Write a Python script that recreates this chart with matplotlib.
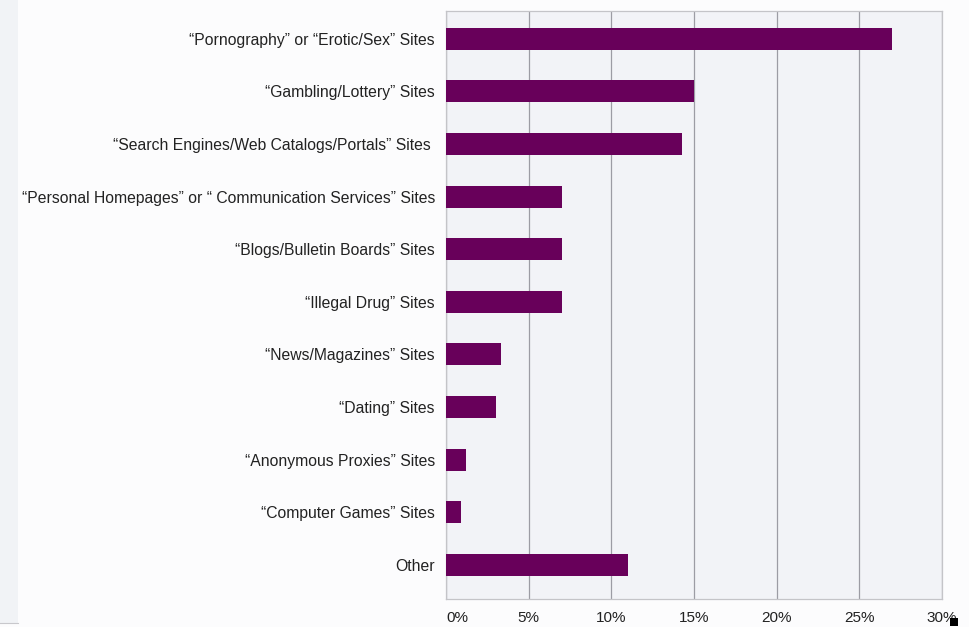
import matplotlib.pyplot as plt
from matplotlib.patches import Rectangle

# Share of blocked site categories (percent)
categories = [
    "\u201cPornography\u201d or \u201cErotic/Sex\u201d Sites",
    "\u201cGambling/Lottery\u201d Sites",
    "\u201cSearch Engines/Web Catalogs/Portals\u201d Sites ",
    "\u201cPersonal Homepages\u201d or \u201c Communication Services\u201d Sites",
    "\u201cBlogs/Bulletin Boards\u201d Sites",
    "\u201cIllegal Drug\u201d Sites",
    "\u201cNews/Magazines\u201d Sites",
    "\u201cDating\u201d Sites",
    "\u201cAnonymous Proxies\u201d Sites",
    "\u201cComputer Games\u201d Sites",
    "Other",
]
shares = [27.0, 15.0, 14.3, 7.0, 7.0, 7.0, 3.3, 3.0, 1.2, 0.9, 11.0]
x_ticks = [0, 5, 10, 15, 20, 25, 30]
x_tick_labels = ["0%", "5%", "10%", "15%", "20%", "25%", "30%"]

plt.rcParams['font.family'] = ['Liberation Sans', 'DejaVu Sans']

fig = plt.figure(figsize=(9.7, 6.27), dpi=100, facecolor='#fcfcfd')
ax = fig.add_axes([0.4598, 0.0447, 0.5113, 0.9378])
ax.set_facecolor('#f2f3f7')

# light strip on the far left edge
fig.patches.append(Rectangle((0, 0.007), 18 / 970, 0.993, transform=fig.transFigure,
                             facecolor='#f1f3f6', edgecolor='none', zorder=0))
fig.add_artist(plt.Line2D([0, 18 / 970], [0.007, 0.007], color='#c8c8cc', lw=0.8))
# small dark mark beside the last tick label
fig.patches.append(Rectangle((950 / 970, 1 / 627), 8 / 970, 8 / 627,
                             transform=fig.transFigure, facecolor='black',
                             edgecolor='none', zorder=5))

y_pos = list(range(len(categories)))
ax.barh(y_pos, shares, height=0.42, color='#68005a', zorder=3)

ax.set_xlim(0, 30)
ax.set_ylim(len(categories) - 1 + 0.65, -0.53)
ax.set_xticks(x_ticks)
ax.set_xticklabels(x_tick_labels, fontsize=11, color='#222222')
ax.get_xticklabels()[0].set_horizontalalignment('left')
ax.set_yticks(y_pos)
ax.set_yticklabels(categories, fontsize=11.3, color='#222222')
ax.tick_params(axis='both', length=0)
ax.tick_params(axis='y', pad=8)
ax.tick_params(axis='x', pad=9)

ax.xaxis.grid(True, color='#9c9ca4', linewidth=0.9, zorder=1)
ax.set_axisbelow(True)
for side in ax.spines.values():
    side.set_color('#c4c4c8')
    side.set_linewidth(0.9)

fig.savefig('out.png', dpi=100, facecolor=fig.get_facecolor())
